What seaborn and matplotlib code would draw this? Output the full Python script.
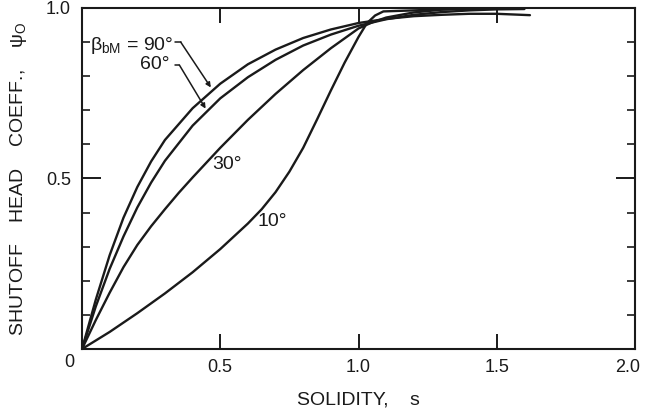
import numpy as np
import pandas as pd
import matplotlib
matplotlib.use("Agg")
import matplotlib.pyplot as plt
import matplotlib.transforms as mtransforms
import seaborn as sns

# solidity s and shutoff head coefficient psi_O, one curve per blade angle
s_90 = [0, 0.05, 0.1, 0.15, 0.2, 0.25, 0.3, 0.4, 0.5, 0.6, 0.7, 0.8, 0.9, 1.0, 1.1, 1.2, 1.3, 1.4, 1.5, 1.62]
psi_90 = [0, 0.145, 0.275, 0.385, 0.475, 0.55, 0.613, 0.706, 0.778, 0.835, 0.878, 0.912, 0.937, 0.956, 0.968, 0.976, 0.980, 0.983, 0.983, 0.979]

s_60 = [0, 0.05, 0.1, 0.15, 0.2, 0.25, 0.3, 0.4, 0.5, 0.6, 0.7, 0.8, 0.9, 1.0, 1.1, 1.2, 1.3, 1.4, 1.5, 1.6]
psi_60 = [0, 0.125, 0.235, 0.33, 0.415, 0.488, 0.552, 0.655, 0.735, 0.797, 0.848, 0.89, 0.922, 0.948, 0.967, 0.98, 0.988, 0.993, 0.996, 0.997]

s_30 = [0, 0.05, 0.1, 0.15, 0.2, 0.25, 0.3, 0.35, 0.4, 0.5, 0.6, 0.7, 0.8, 0.9, 1.0, 1.05, 1.1, 1.2, 1.3, 1.4, 1.5]
psi_30 = [0, 0.085, 0.165, 0.24, 0.305, 0.36, 0.41, 0.458, 0.503, 0.59, 0.672, 0.748, 0.818, 0.882, 0.94, 0.958, 0.972, 0.987, 0.995, 0.999, 1.0]

s_10 = [0, 0.1, 0.2, 0.3, 0.4, 0.5, 0.6, 0.65, 0.7, 0.75, 0.8, 0.85, 0.9, 0.95, 1.0, 1.03, 1.06, 1.09, 1.2, 1.3, 1.4, 1.5, 1.6]
psi_10 = [0, 0.05, 0.105, 0.163, 0.225, 0.293, 0.368, 0.41, 0.46, 0.52, 0.59, 0.673, 0.758, 0.84, 0.915, 0.955, 0.978, 0.99, 0.993, 0.996, 0.998, 1.0, 1.0]

angles = ["90", "60", "30", "10"]

df = pd.concat([
    pd.DataFrame({"s": s_90, "psi": psi_90, "angle": "90"}),
    pd.DataFrame({"s": s_60, "psi": psi_60, "angle": "60"}),
    pd.DataFrame({"s": s_30, "psi": psi_30, "angle": "30"}),
    pd.DataFrame({"s": s_10, "psi": psi_10, "angle": "10"}),
])

sns.set_style("ticks")
plt.rcParams["font.family"] = ["Liberation Sans", "DejaVu Sans"]
plt.rcParams["mathtext.fontset"] = "custom"
plt.rcParams["mathtext.rm"] = "Liberation Sans"
plt.rcParams["mathtext.it"] = "Liberation Sans:italic"

ink = "#1a1a1a"
fig = plt.figure(figsize=(6.45, 4.15), dpi=100)
ax = fig.add_axes([82 / 645, 1 - 349 / 415, 553 / 645, 341 / 415])

sns.lineplot(data=df, x="s", y="psi", hue="angle", hue_order=angles,
             palette=[ink] * 4, linewidth=1.7, legend=False, sort=False,
             estimator=None, ax=ax)

ax.set_xlim(0, 2.0)
ax.set_ylim(0, 1.0)
for sp in ax.spines.values():
    sp.set_linewidth(1.5)
    sp.set_color(ink)

ax.set_xticks([0, 0.5, 1.0, 1.5, 2.0])
ax.set_xticklabels(["", "0.5", "1.0", "1.5", "2.0"])
ax.set_yticks([0, 0.5, 1.0])
ax.set_yticklabels(["", "0.5", "1.0"])
ax.set_yticks(np.arange(0.1, 1.0, 0.1), minor=True)
ax.tick_params(axis="x", which="major", direction="in", top=True, length=11,
               width=1.4, pad=7, labelsize=13, colors=ink)
ax.tick_params(axis="y", which="major", direction="in", right=True, length=14,
               width=1.4, pad=8, labelsize=13, colors=ink)
ax.tick_params(axis="y", which="minor", direction="in", right=True, length=6,
               width=1.2, colors=ink)
# keep the last x label inside the picture
last = ax.get_xticklabels()[-1]
last.set_transform(last.get_transform() +
                   mtransforms.ScaledTranslation(-5 / 72, 0, fig.dpi_scale_trans))
ax.text(-0.047, -0.04, "0", ha="center", va="center", fontsize=13,
        color=ink, clip_on=False)

ax.set_xlabel("SOLIDITY,    s", fontsize=14, color=ink, labelpad=11)
ax.set_ylabel("SHUTOFF    HEAD    COEFF.,    ψ$_{\\mathrm{O}}$", fontsize=14,
              color=ink, labelpad=12)
ax.grid(False)

# curve labels with leader lines
ax.text(0.029, 0.891, "β$_{\\mathrm{bM}}$ = 90°", ha="left", va="center",
        fontsize=14, color=ink)
ax.text(0.317, 0.833, "60°", ha="right", va="center", fontsize=14, color=ink)
ax.text(0.526, 0.54, "30°", ha="center", va="center", fontsize=14, color=ink)
ax.text(0.688, 0.373, "10°", ha="center", va="center", fontsize=14, color=ink)

ax.plot([0.335, 0.357], [0.90, 0.90], color=ink, lw=1.1)
ax.annotate("", xy=(0.466, 0.767), xytext=(0.357, 0.90),
            arrowprops=dict(arrowstyle="-|>", color=ink, lw=1.1,
                            mutation_scale=7, shrinkA=0, shrinkB=0))
ax.plot([0.335, 0.352], [0.833, 0.833], color=ink, lw=1.1)
ax.annotate("", xy=(0.447, 0.705), xytext=(0.352, 0.833),
            arrowprops=dict(arrowstyle="-|>", color=ink, lw=1.1,
                            mutation_scale=7, shrinkA=0, shrinkB=0))

fig.savefig("out.png", dpi=100)
